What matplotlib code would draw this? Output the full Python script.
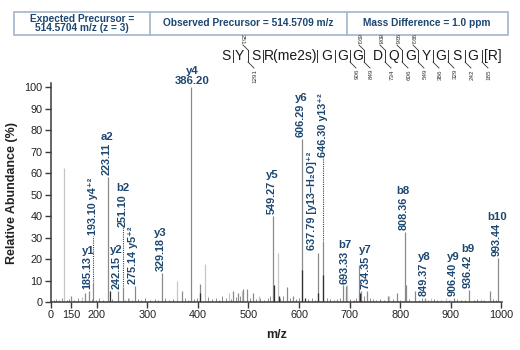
import matplotlib
matplotlib.use('Agg')
import matplotlib.pyplot as plt
from matplotlib.patches import Rectangle
from matplotlib.lines import Line2D

W, H = 520, 350
FAM = ['Liberation Sans Narrow', 'Liberation Sans', 'DejaVu Sans']
plt.rcParams['font.family'] = FAM
NAVY = '#1d4771'

# ---------------- data ----------------
light_mz = [136.1, 171.0, 263.0, 358.0, 413.9, 462.0, 488.0, 520.0, 557.5, 694.3, 778.0, 860.0, 891.0, 960.0]
light_int = [62.5, 2.5, 2.0, 10.0, 17.7, 4.0, 5.0, 3.0, 23.0, 8.0, 3.0, 2.0, 2.0, 1.5]

mid_mz = [150.1, 177.1, 185.13, 193.10, 223.11, 242.15, 251.10, 275.14, 329.18, 368.0, 386.20,
          404.2, 470.0, 480.0, 490.0, 497.0, 509.0, 549.27, 575.3, 588.0, 606.29, 637.79,
          646.30, 687.3, 693.33, 718.8, 723.0, 734.35, 776.0, 793.0, 808.36, 812.0, 828.7,
          849.37, 906.40, 936.42, 976.8, 993.44]
mid_int = [3.0, 4.0, 5.0, 9.5, 58.3, 5.0, 7.0, 7.6, 13.3, 5.0, 100.0,
           8.4, 5.0, 4.0, 6.0, 6.0, 4.0, 40.0, 7.0, 3.0, 76.0, 23.0,
           28.5, 8.0, 7.6, 17.0, 5.0, 5.0, 3.0, 4.0, 32.7, 8.0, 5.0,
           2.0, 2.0, 5.6, 5.0, 20.5]

dark_mz = [226.1, 404.5, 551.3, 606.3, 637.5, 646.8, 720.5, 560.0, 612.0]
dark_int = [5.0, 4.0, 8.0, 15.0, 4.0, 12.5, 4.0, 3.0, 2.0]

noise_mz = [115, 120, 126, 131, 142, 146, 155, 163, 190, 198, 205, 212, 230, 255, 262, 270, 282,
            288, 296, 305, 315, 322, 335, 342, 350, 374, 380, 393, 398, 420, 428, 435, 442, 448,
            455, 465, 475, 484, 502, 515, 522, 530, 538, 543, 563, 568, 582, 594, 600, 618, 625,
            631, 655, 662, 668, 675, 681, 700, 708, 713, 728, 740, 746, 752, 760, 767, 785, 800,
            818, 836, 842, 855, 866, 873, 880, 897, 912, 920, 928, 945, 952, 966, 984, 990]
noise_int = [1, 1.5, 1, 2, 1, 1.5, 1, 2, 1.5, 1, 2, 1, 1.5, 1, 2, 1, 1.5,
             1, 2, 1, 1.5, 1, 2, 1, 1.5, 2, 1, 1.5, 2, 2.5, 1.5, 2, 1, 3,
             2, 1.5, 2.5, 3, 2, 1.5, 2, 1, 2, 3, 2, 3, 2, 1.5, 2, 1.5, 2,
             1, 2, 1.5, 1, 1.5, 2, 1.5, 1, 2, 3, 2, 1.5, 1, 1.5, 1, 1.5, 1,
             1.5, 1, 2, 1, 1.5, 1, 1, 1, 1.5, 1, 1, 1, 1.5, 1, 1.5, 1]

# labelled ions: horizontal ion name above rotated m/z
lab_ion = ['y1', 'a2', 'y2', 'y3', 'y5', 'y6', 'b7', 'y7', 'b8', 'y8', 'y9', 'b9', 'b10']
lab_mz = [185.13, 223.11, 242.15, 329.18, 549.27, 606.29, 693.33, 734.35, 808.36, 849.37, 906.40, 936.42, 993.44]
# inline labels (rotated text incl. ion name)
inl_text = ['275.14 y5\u207a\u00b2', '637.79 [y13\u2013H\u2082O]\u207a\u00b2']
inl_mz = [275.14, 637.79]
# dotted-leader labels
dot_text = ['193.10 y4\u207a\u00b2', '251.10', '646.30 y13\u207a\u00b2']
dot_ion = ['', 'b2', '']
dot_mz = [193.10, 251.10, 646.30]
dot_texty = [31.2, 35.0, 67.6]
# base peak
base_ion, base_mz = 'y4', 386.20

xticks = [109.7, 150, 200, 300, 400, 500, 600, 700, 800, 900, 1000]
xticklabels = ['0', '150', '200', '300', '400', '500', '600', '700', '800', '900', '1000']
yticks = [0, 10, 20, 30, 40, 50, 60, 70, 80, 90, 100]

header = ['Expected Precursor =\n514.5704 m/z (z = 3)', 'Observed Precursor = 514.5709 m/z',
          'Mass Difference = 1.0 ppm']

residues = ['S', 'Y', 'S', 'R(me2s)', 'G', 'G', 'G', 'D', 'Q', 'G', 'Y', 'G', 'S', 'G', '[R]']
b_site = [2, 7, 8, 9, 10]
b_num = ['251', '693', '808', '936', '993']
y_site = [2, 6, 7, 8, 9, 10, 11, 12, 13, 14]
y_num = ['1291', '906', '849', '734', '606', '549', '386', '329', '242', '185']

# ---------------- figure ----------------
fig = plt.figure(figsize=(W / 100, H / 100), dpi=100)


def fx(x):
    return x / W


def fy(y):
    return 1 - y / H


ax = fig.add_axes([fx(51), fy(302), fx(502) - fx(51), fy(83) - fy(302)])
ax.set_xlim(109.7, 1001)
ax.set_ylim(0, 101.9)

ax.vlines(noise_mz, 0, noise_int, color='#8f8f8f', lw=0.7)
ax.vlines(light_mz, 0, light_int, color='#c6c6c6', lw=0.9)
ax.vlines(mid_mz, 0, mid_int, color='#8a8a8a', lw=0.9)
ax.vlines(dark_mz, 0, dark_int, color='#2e2e2e', lw=0.9)

allmz = light_mz + mid_mz + dark_mz
allint = light_int + mid_int + dark_int


def height(m):
    best = max([(i, mm) for mm, i in zip(allmz, allint) if abs(mm - m) < 0.6])
    return best[0]


lab_fs = 7.8
for ion, m in zip(lab_ion, lab_mz):
    h = height(m)
    t = ax.annotate(f'{m:.2f}', xy=(m, h), xytext=(-1, 1.5), textcoords='offset points',
                    rotation=90, ha='center', va='bottom', color=NAVY, fontsize=lab_fs,
                    fontweight='bold', annotation_clip=False)
    ax.annotate(ion, xy=(0.5, 1), xycoords=t, xytext=(0, 0.5), textcoords='offset points',
                ha='center', va='bottom', color=NAVY, fontsize=lab_fs + 0.4, fontweight='bold')

nudges = [0, -3.5]
for txt, m, dx in zip(inl_text, inl_mz, nudges):
    h = height(m)
    ax.annotate(txt, xy=(m, h), xytext=(-1 + dx, 1.5), textcoords='offset points',
                rotation=90, ha='center', va='bottom', color=NAVY, fontsize=lab_fs,
                fontweight='bold', annotation_clip=False)

for txt, ion, m, ty in zip(dot_text, dot_ion, dot_mz, dot_texty):
    h = height(m)
    t = ax.text(m, ty, txt, rotation=90, ha='center', va='bottom', color=NAVY,
                fontsize=lab_fs, fontweight='bold')
    ax.plot([m, m], [h + 0.5, ty - 0.3], color=NAVY, lw=0.8, ls=(0, (1, 1)))
    if ion:
        ax.annotate(ion, xy=(0.5, 1), xycoords=t, xytext=(0, 0.5), textcoords='offset points',
                    ha='center', va='bottom', color=NAVY, fontsize=lab_fs + 0.4, fontweight='bold')

t = ax.annotate(f'{base_mz:.2f}', xy=(base_mz, 100), xytext=(1, 1), textcoords='offset points',
                ha='center', va='bottom', color=NAVY, fontsize=lab_fs + 0.4, fontweight='bold',
                annotation_clip=False)
ax.annotate(base_ion, xy=(0.5, 1), xycoords=t, xytext=(0, 0), textcoords='offset points',
            ha='center', va='bottom', color=NAVY, fontsize=lab_fs + 0.4, fontweight='bold')

for s in ['top', 'right']:
    ax.spines[s].set_visible(False)
for s in ['left', 'bottom']:
    ax.spines[s].set_color('#3a3a3a')
    ax.spines[s].set_linewidth(1.1)
ax.set_xticks(xticks)
ax.set_xticklabels(xticklabels)
ax.set_yticks(yticks)
ax.tick_params(axis='both', direction='out', length=4, width=1, color='#3a3a3a',
               labelsize=7.8, labelcolor='#222222', pad=2)
ax.set_xlabel('m/z', fontsize=9, fontweight='bold', color='#222222', labelpad=6)
ax.set_ylabel('Relative Abundance (%)', fontsize=9, fontweight='bold', color='#222222', labelpad=5)

# ---------------- header table ----------------
BOX = '#a7bbcf'
fig.add_artist(Rectangle((fx(14), fy(35)), fx(508) - fx(14), fy(12) - fy(35),
                         transform=fig.transFigure, fill=False, edgecolor=BOX, lw=1.3))
for xv in [150, 347]:
    fig.add_artist(Line2D([fx(xv), fx(xv)], [fy(35), fy(12)], transform=fig.transFigure,
                          color=BOX, lw=1.3))
for txt, xc in zip(header, [82, 248, 427]):
    fig.text(fx(xc), fy(23.5), txt, ha='center', va='center', color=NAVY, fontsize=7.3,
             fontweight='bold', linespacing=0.95)

# ---------------- sequence ----------------
res_x = [226, 239.5, 255.5, 290.5, 326.5, 342.5, 357.5, 377.5, 394, 411, 426.5, 441, 456.5, 472.5, 492.5]
sep_x = [233, 248, 263, 317, 335, 350, 364, 385, 402, 418, 433, 448, 465, 482]
seq_y = 56
for r, xc in zip(residues, res_x):
    fig.text(fx(xc), fy(seq_y), r, ha='center', va='center', fontsize=10,
             family=['Liberation Sans', 'DejaVu Sans'], color='#1a1a1a')
for i, xs in enumerate(sep_x):
    site = i + 1
    fig.add_artist(Line2D([fx(xs), fx(xs)], [fy(50), fy(62)], transform=fig.transFigure,
                          color='#333333', lw=0.7))
    if site in b_site:
        num = b_num[b_site.index(site)]
        fig.add_artist(Line2D([fx(xs - 5), fx(xs)], [fy(45), fy(50)], transform=fig.transFigure,
                              color='#333333', lw=0.6))
        fig.text(fx(xs - 6), fy(44), num, rotation=-90, ha='center', va='bottom', fontsize=4.5,
                 family=['Liberation Sans', 'DejaVu Sans'], color='#333333')
    if site in y_site:
        num = y_num[y_site.index(site)]
        fig.add_artist(Line2D([fx(xs), fx(xs + 6)], [fy(62), fy(68)], transform=fig.transFigure,
                              color='#333333', lw=0.6))
        fig.text(fx(xs + 7), fy(69), num, rotation=90, ha='center', va='top', fontsize=4.5,
                 family=['Liberation Sans', 'DejaVu Sans'], color='#333333')

fig.savefig('out.png', dpi=100)
